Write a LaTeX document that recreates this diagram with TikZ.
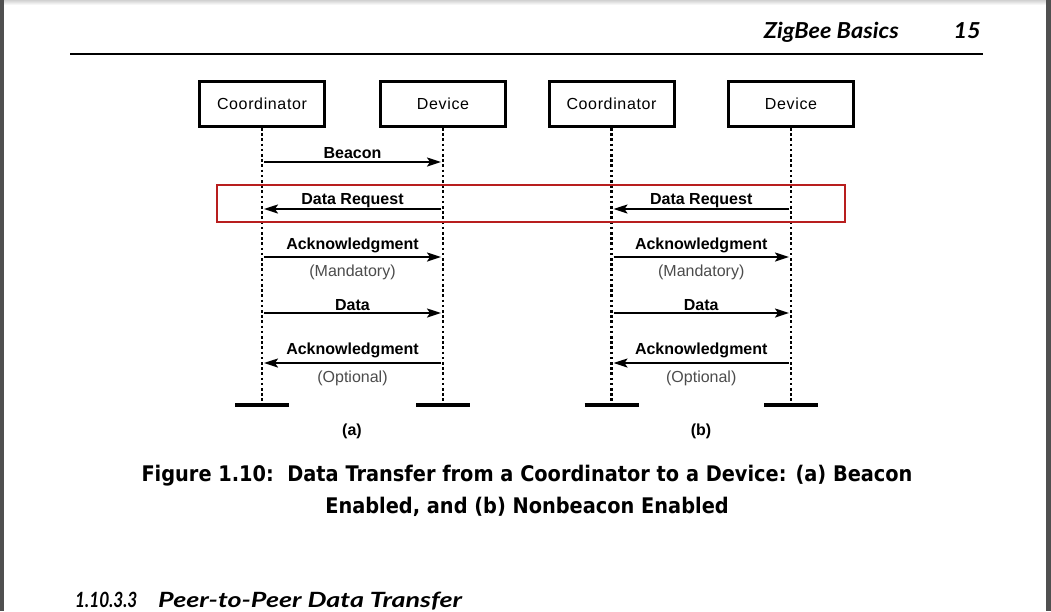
\documentclass[tikz,border=0pt]{standalone}
\usepackage{fontspec}
\setmainfont{Liberation Sans}
\newfontfamily\capfont[FakeStretch=0.9]{DejaVu Sans}
\newfontfamily\hdrfont[FakeStretch=1.07]{Lato}
\newfontfamily\secfont[FakeStretch=1.28]{Lato}
\newfontfamily\secnumfont[FakeStretch=0.82]{Lato}
\usetikzlibrary{arrows.meta}
\definecolor{edge}{HTML}{505050}
\definecolor{hilite}{HTML}{B81E1E}
\begin{document}
\begin{tikzpicture}[x=1pt,y=-1pt,
  box/.style={draw, line width=3pt, minimum width=125pt, minimum height=45pt, inner sep=0pt,
    font=\fontsize{16}{16}\selectfont\addfontfeatures{LetterSpace=4}},
  life/.style={line width=2.6pt, dash pattern=on 2.6pt off 2.6pt},
  bar/.style={line width=4.5pt},
  msg/.style={line width=2pt, -{Stealth[length=14pt,width=9pt,inset=3pt]}, shorten <=2pt, shorten >=2pt},
  lbl/.style={font=\bfseries\fontsize{16}{16}\selectfont, inner sep=0pt, anchor=base},
  sub/.style={font=\fontsize{16}{16}\selectfont, text=black!70, inner sep=0pt, anchor=base},
  hdr/.style={font=\hdrfont\bfseries\itshape\fontsize{22}{22}\selectfont, inner sep=0pt},
  sec/.style={font=\secfont\bfseries\itshape\fontsize{21}{21}\selectfont, inner sep=0pt, anchor=base west},
  secnum/.style={font=\secnumfont\bfseries\itshape\fontsize{21}{21}\selectfont, inner sep=0pt, anchor=base west},
  captext/.style={font=\capfont\bfseries\fontsize{21.5}{21.5}\selectfont, inner sep=0pt, anchor=base}
]
\useasboundingbox (0,0) rectangle (1051,611);
\fill[white] (0,0) rectangle (1051,611);
\shade[top color=black!18, bottom color=white] (4,0) rectangle (1046,5);
\fill[edge] (0,0) rectangle (4,611);
\fill[edge] (1046,0) rectangle (1051,611);

% running head
\node[hdr, anchor=base east] (title) at (899,38) {ZigBee Basics};
\node[hdr, anchor=base east] (page) at (981,38) {15};
\draw[line width=1.5pt] (70,54) -- (983,54);

% participants
\node[box] (C1) at (262,104) {Coordinator};
\node[box] (D1) at (443,104) {Device};
\node[box] (C2) at (611.5,104) {Coordinator};
\node[box] (D2) at (791,104) {Device};

\coordinate (bot) at (0,405);
\foreach \p in {C1,D1,C2,D2}{
  \coordinate (\p e) at (\p.south |- bot);
  \draw[life] (\p.south) -- (\p e);
  \draw[bar] ([xshift=-27pt]\p e) -- ([xshift=27pt]\p e);
}

% highlight
\draw[hilite, line width=1.1pt] (217,185) rectangle (845,222);

% message rows
\coordinate (m1) at (0,162);
\coordinate (m2) at (0,209);
\coordinate (m3) at (0,257);
\coordinate (m4) at (0,313);
\coordinate (m5) at (0,363);

% (a) beacon enabled
\draw[msg] (C1.south |- m1) -- (D1.south |- m1) node[lbl, midway, yshift=4pt] {Beacon};
\draw[msg] (D1.south |- m2) -- (C1.south |- m2) node[lbl, midway, yshift=5pt] {Data Request};
\draw[msg] (C1.south |- m3) -- (D1.south |- m3) node[lbl, midway, yshift=8pt] {Acknowledgment}
   node[sub, midway, yshift=-19pt] {(Mandatory)};
\draw[msg] (C1.south |- m4) -- (D1.south |- m4) node[lbl, midway, yshift=3pt] {Data};
\draw[msg] (D1.south |- m5) -- (C1.south |- m5) node[lbl, midway, yshift=9pt] {Acknowledgment}
   node[sub, midway, yshift=-19pt] {(Optional)};

% (b) nonbeacon enabled
\draw[msg] (D2.south |- m2) -- (C2.south |- m2) node[lbl, midway, yshift=5pt] {Data Request};
\draw[msg] (C2.south |- m3) -- (D2.south |- m3) node[lbl, midway, yshift=8pt] {Acknowledgment}
   node[sub, midway, yshift=-19pt] {(Mandatory)};
\draw[msg] (C2.south |- m4) -- (D2.south |- m4) node[lbl, midway, yshift=3pt] {Data};
\draw[msg] (D2.south |- m5) -- (C2.south |- m5) node[lbl, midway, yshift=9pt] {Acknowledgment}
   node[sub, midway, yshift=-19pt] {(Optional)};

\node[lbl] (la) at (352,435) {(a)};
\node[lbl] (lb) at (701,435) {(b)};

% caption
\node[captext] (cap1) at (527,481) {Figure 1.10:\ \ Data Transfer from a Coordinator to a Device: (a) Beacon};
\node[captext] (cap2) at (527,513) {Enabled, and (b) Nonbeacon Enabled};

% section heading
\node[secnum] (secn) at (75,607) {1.10.3.3};
\node[sec] (sect) at (158,607) {Peer-to-Peer Data Transfer};
\end{tikzpicture}
\end{document}
